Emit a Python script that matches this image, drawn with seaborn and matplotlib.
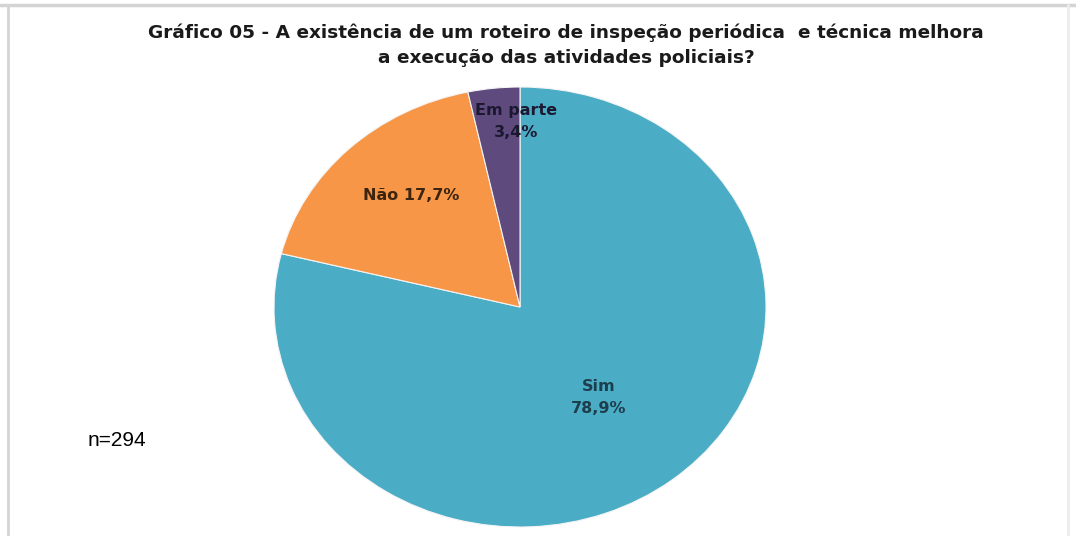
import matplotlib
matplotlib.use("Agg")
import matplotlib.pyplot as plt
import seaborn as sns
import numpy as np
from matplotlib.lines import Line2D

categories = ["Sim", "Não", "Em parte"]
values = [78.9, 17.7, 3.4]
label_texts = ["Sim\n78,9%", "Não 17,7%", "Em parte\n3,4%"]
colors = ["#4BACC6", "#F79646", "#5E4A7D"]
text_colors = ["#1d3f4d", "#3d2410", "#1c1830"]
title = ("Gráfico 05 - A existência de um roteiro de inspeção periódica  e técnica melhora\n"
         "a execução das atividades policiais?")
note = "n=294"

sns.set_theme(style="white")
plt.rcParams['font.family'] = ['DejaVu Sans']

W, H = 1076, 536
fig = plt.figure(figsize=(W / 100, H / 100), dpi=100)
fig.patch.set_facecolor("white")

# pie axes (slightly elliptical, like the reference)
cx, cy, rx, ry = 520, 307, 246, 220
ax = fig.add_axes([(cx - rx) / W, (H - cy - ry) / H, 2 * rx / W, 2 * ry / H])
wedges, _ = ax.pie(values, colors=colors, startangle=90, counterclock=False,
                   wedgeprops=dict(edgecolor="#f4f4f4", linewidth=0.8))
ax.set_aspect("auto")
ax.set_xlim(-1, 1)
ax.set_ylim(-1, 1)
ax.axis("off")

dists = [0.52, 0.675, 0.845]
angle_adj = [0, -3, -5]
for w, txt, d, adj, tc in zip(wedges, label_texts, dists, angle_adj, text_colors):
    ang = np.deg2rad((w.theta1 + w.theta2) / 2 + adj)
    ax.text(d * np.cos(ang), d * np.sin(ang), txt, ha="center", va="center",
            fontsize=11.5, color=tc, linespacing=1.6, fontweight="bold")

fig.text(566 / W, 1 - 45 / H, title, ha="center", va="center", fontsize=13.3,
         fontweight="bold", color="#1a1a1a", linespacing=1.5)
fig.text(88 / W, 1 - 440 / H, note, ha="left", va="center", fontsize=15,
         color="black", family=["Liberation Sans", "DejaVu Sans"])

# light frame lines
fig.add_artist(Line2D([0, 1], [1 - 5 / H, 1 - 5 / H], color="#d4d4d4", lw=2.5, transform=fig.transFigure))
fig.add_artist(Line2D([8 / W, 8 / W], [0, 1 - 5 / H], color="#d4d4d4", lw=2, transform=fig.transFigure))
fig.add_artist(Line2D([1068 / W, 1068 / W], [0, 1 - 5 / H], color="#ececec", lw=2, transform=fig.transFigure))

fig.savefig("out.png", dpi=100, facecolor="white")
